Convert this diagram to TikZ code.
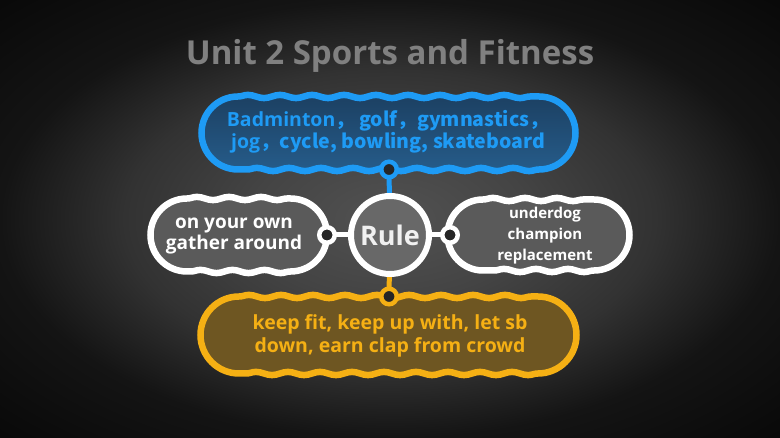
\documentclass[tikz,border=0pt]{standalone}
\usepackage{fontspec}
\setmainfont{Open Sans}
\newfontfamily\cjk{Noto Sans CJK SC}
\usetikzlibrary{decorations.pathmorphing}
\definecolor{bluec}{RGB}{30,155,245}
\definecolor{bluefillA}{RGB}{28,64,98}
\definecolor{bluefillB}{RGB}{38,92,138}
\definecolor{orangec}{RGB}{245,176,20}
\definecolor{orangefill}{RGB}{110,86,34}
\definecolor{grayfill}{RGB}{90,90,90}
\definecolor{circfill}{RGB}{104,104,104}
\definecolor{dotin}{RGB}{38,38,38}
\definecolor{titlec}{RGB}{128,128,128}
\definecolor{bgin}{RGB}{82,82,82}
\definecolor{bgmid}{RGB}{68,68,68}
\definecolor{bgmid2}{RGB}{50,50,50}
\definecolor{bgedge}{RGB}{20,20,20}
\definecolor{bgout}{RGB}{8,8,8}
\pgfdeclareradialshading{bgshade}{\pgfpoint{0bp}{0bp}}{color(0bp)=(bgin); color(9bp)=(bgmid); color(17bp)=(bgmid2); color(25bp)=(bgedge); color(36bp)=(bgout); color(50bp)=(bgout)}
\pgfdeclarelayer{back}
\pgfdeclarelayer{links}
\pgfsetlayers{back,links,main}
\tikzset{
  wave/.style={decoration={snake,segment length=32pt,amplitude=1.6pt}},
  pillline/.style={line width=6.5pt},
  ptext/.style n args={2}{font=\bfseries\fontsize{#1}{#2}\selectfont, align=center, inner sep=0pt},
  dotnode/.style={circle, draw=#1, line width=4.5pt, fill=dotin, minimum size=15.5pt, inner sep=0pt},
  conn/.style={line width=5pt, draw=#1},
}
\begin{document}
\begin{tikzpicture}[x=1pt,y=1pt]
\useasboundingbox (0,0) rectangle (780,438);
\begin{pgfonlayer}{back}
\shade[shading=bgshade] (0,0) rectangle (780,438);
\end{pgfonlayer}
% title
\node[ptext={33}{40}, text=titlec, anchor=base] (title) at (390,373) {Unit 2 Sports and Fitness};
% blue pill
\path[pillline, draw=bluec, top color=bluefillA, bottom color=bluefillB]
  (238,341.5) decorate[wave]{-- (539,341.5)} arc[start angle=90,end angle=-90,radius=36.5]
  decorate[wave]{-- (238,268.5)} arc[start angle=270,end angle=90,radius=36.5] -- cycle;
% left pill
\path[pillline, draw=white, fill=grayfill]
  (187,239.5) decorate[wave]{-- (290.5,239.5)} arc[start angle=90,end angle=-90,radius=36.5]
  decorate[wave]{-- (187,166.5)} arc[start angle=270,end angle=90,radius=36.5] -- cycle;
% right pill
\path[pillline, draw=white, fill=grayfill]
  (483,238.5) decorate[wave]{-- (594,238.5)} arc[start angle=90,end angle=-90,radius=35.5]
  decorate[wave]{-- (483,167.5)} arc[start angle=270,end angle=90,radius=35.5] -- cycle;
% orange pill
\path[pillline, draw=orangec, fill=orangefill]
  (239,141.5) decorate[wave]{-- (538,141.5)} arc[start angle=90,end angle=-90,radius=38.5]
  decorate[wave]{-- (239,64.5)} arc[start angle=270,end angle=90,radius=38.5] -- cycle;
% texts
\node[ptext={19.5}{22}, text=bluec] (btext) at (388,306) {Badminton\cjk{，} golf\cjk{，}gymnastics\cjk{，}\\jog\cjk{，}cycle, bowling, skateboard};
\node[ptext={19}{21.5}, text=white] (ltext) at (234,202) {on your own\\gather around};
\node[ptext={15}{21}, text=white] (rtext) at (545,202) {underdog\\champion\\replacement};
\node[ptext={19.5}{23}, text=orangec] (otext) at (390,102) {keep fit, keep up with, let sb\\down, earn clap from crowd};
% center and dots
\node[circle, draw=white, line width=6pt, fill=circfill, minimum size=78pt, inner sep=0pt, font=\bfseries\fontsize{27}{30}\selectfont, text=white!94!black] (rule) at (390,203) {Rule};
\node[dotnode=bluec] (bdot) at (389,268.5) {};
\node[dotnode=orangec] (odot) at (389,141.5) {};
\node[dotnode=white] (ldot) at (327,203) {};
\node[dotnode=white] (rdot) at (450,203) {};
\begin{pgfonlayer}{links}
\draw[conn=bluec] (bdot.center) -- (rule.center);
\draw[conn=orangec] (odot.center) -- (rule.center);
\draw[conn=white] (ldot.center) -- (rule.center);
\draw[conn=white] (rdot.center) -- (rule.center);
\end{pgfonlayer}
\end{tikzpicture}
\end{document}
